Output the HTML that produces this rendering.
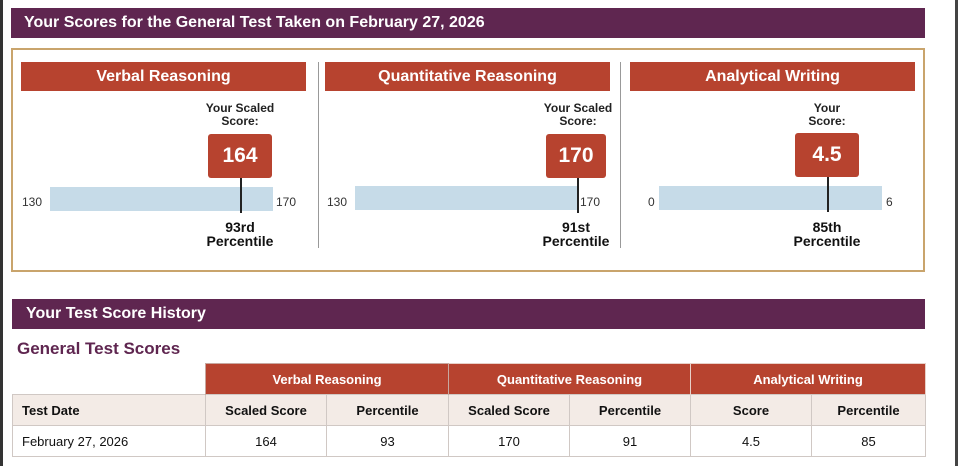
<!DOCTYPE html>
<html><head><style>
*{margin:0;padding:0;box-sizing:border-box}
body{width:960px;height:466px;background:#fff;font-family:"Liberation Sans",Arial,sans-serif;position:relative;overflow:hidden}
.abs{position:absolute}
.purple{background:#5f2650;color:#fff;font-weight:bold;font-size:16px}
.red{background:#b7432f;color:#fff;font-weight:bold;text-align:center}
.c{text-align:center}
.lbl{font-size:12px;color:#222;font-weight:bold;text-align:center;line-height:13px}
.bar{background:#c6dbe8}
.box{background:#b7432f;color:#fff;font-weight:bold;font-size:21px;text-align:center;border-radius:3px;line-height:44px}
.tick{font-size:12px;color:#333}
.pct{font-size:14px;font-weight:bold;color:#111;text-align:center;line-height:14px}
table{border-collapse:collapse;position:absolute;left:12px;top:363px;font-size:13px}
td{height:31px;border:1px solid #d0c8c4;text-align:center;color:#111}
</style></head><body>
<div class="abs" style="left:0;top:0;width:3px;height:466px;background:#333"></div>
<div class="abs" style="left:955px;top:0;width:3px;height:466px;background:#444"></div>

<div class="abs purple" style="left:11px;top:8px;width:914px;height:30px;line-height:30px;padding-left:13px">Your Scores for the General Test Taken on February 27, 2026</div>
<div class="abs" style="left:11px;top:48px;width:914px;height:224px;border:2px solid #c9a46c"></div>

<div class="abs red" style="left:21px;top:62px;width:285px;height:29px;line-height:29px;font-size:16px">Verbal Reasoning</div>
<div class="abs red" style="left:325px;top:62px;width:285px;height:29px;line-height:29px;font-size:16px">Quantitative Reasoning</div>
<div class="abs red" style="left:630px;top:62px;width:285px;height:29px;line-height:29px;font-size:16px">Analytical Writing</div>
<div class="abs" style="left:318px;top:62px;width:1px;height:186px;background:#999"></div>
<div class="abs" style="left:620px;top:62px;width:1px;height:186px;background:#999"></div>

<!-- Verbal -->
<div class="abs lbl" style="left:190px;top:102px;width:100px">Your Scaled<br>Score:</div>
<div class="abs box" style="left:208px;top:134px;width:64px;height:44px">164</div>
<div class="abs bar" style="left:50px;top:187px;width:223px;height:24px"></div>
<div class="abs" style="left:240px;top:178px;width:1.5px;height:35px;background:#222"></div>
<div class="abs tick" style="left:22px;top:195px">130</div>
<div class="abs tick" style="left:276px;top:195px">170</div>
<div class="abs pct" style="left:190px;top:220px;width:100px">93rd<br>Percentile</div>

<!-- Quant -->
<div class="abs lbl" style="left:528px;top:102px;width:100px">Your Scaled<br>Score:</div>
<div class="abs box" style="left:546px;top:134px;width:60px;height:44px">170</div>
<div class="abs bar" style="left:355px;top:186px;width:222px;height:24px"></div>
<div class="abs" style="left:577px;top:178px;width:1.5px;height:35px;background:#222"></div>
<div class="abs tick" style="left:327px;top:195px">130</div>
<div class="abs tick" style="left:580px;top:195px">170</div>
<div class="abs pct" style="left:526px;top:220px;width:100px">91st<br>Percentile</div>

<!-- AW -->
<div class="abs lbl" style="left:777px;top:102px;width:100px">Your<br>Score:</div>
<div class="abs box" style="left:795px;top:133px;width:64px;height:44px">4.5</div>
<div class="abs bar" style="left:659px;top:186px;width:223px;height:24px"></div>
<div class="abs" style="left:827px;top:177px;width:1.5px;height:35px;background:#222"></div>
<div class="abs tick" style="left:648px;top:195px">0</div>
<div class="abs tick" style="left:886px;top:195px">6</div>
<div class="abs pct" style="left:772px;top:220px;width:110px">85th<br>Percentile</div>

<div class="abs purple" style="left:12px;top:299px;width:913px;height:30px;line-height:30px;padding-left:14px">Your Test Score History</div>
<div class="abs" style="left:17px;top:339px;font-size:17px;font-weight:bold;color:#5f2650">General Test Scores</div>

<table>
<tr style="height:31px"><td style="width:193px;border:none"></td><td colspan="2" class="red" style="border:1px solid #c8a8a0;border-bottom:none">Verbal Reasoning</td><td colspan="2" class="red" style="border:1px solid #e8d0c8;border-bottom:none">Quantitative Reasoning</td><td colspan="2" class="red" style="border:1px solid #e8d0c8;border-bottom:none">Analytical Writing</td></tr>
<tr style="background:#f3ebe6;font-weight:bold"><td style="width:193px;text-align:left;padding-left:9px">Test Date</td><td style="width:121px">Scaled Score</td><td style="width:122px">Percentile</td><td style="width:121px">Scaled Score</td><td style="width:121px">Percentile</td><td style="width:121px">Score</td><td style="width:114px">Percentile</td></tr>
<tr><td style="text-align:left;padding-left:9px">February 27, 2026</td><td>164</td><td>93</td><td>170</td><td>91</td><td>4.5</td><td>85</td></tr>
</table>
</body></html>
